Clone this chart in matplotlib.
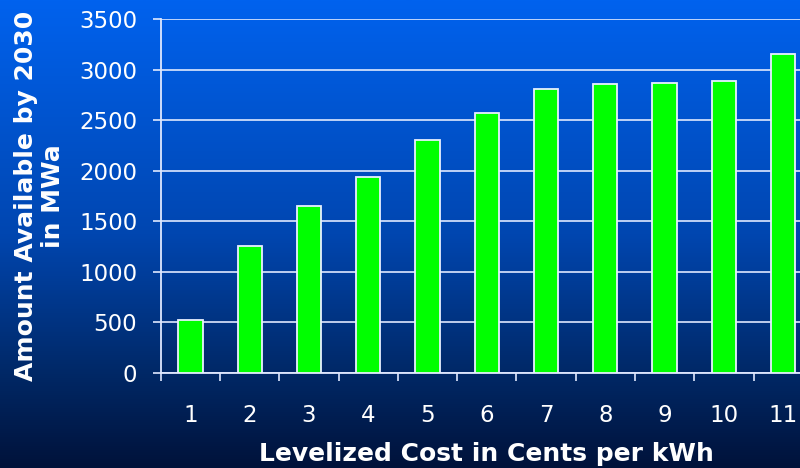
import matplotlib

matplotlib.use("Agg")
import matplotlib.pyplot as plt
import numpy as np
from matplotlib.colors import LinearSegmentedColormap

plt.rcParams.update({"font.family": "DejaVu Sans"})

# ── Data ──────────────────────────────────────────────────────────────────────
cost_cents = [1, 2, 3, 4, 5, 6, 7, 8, 9, 10, 11]
mwa_available = [520, 1260, 1650, 1940, 2300, 2570, 2810, 2860, 2870, 2890, 3160]
y_ticks = [0, 500, 1000, 1500, 2000, 2500, 3000, 3500]

GREEN = "#00ff00"
WHITE = "#ffffff"
LINE = "#dfe8ff"

fig = plt.figure(figsize=(8.0, 4.68), dpi=100)

# background gradient, bright blue on top fading to navy
bg = fig.add_axes([0, 0, 1, 1], zorder=0)
grad_cmap = LinearSegmentedColormap.from_list(
    "bg",
    [(0.0, "#00123a"), (0.2, "#002866"), (0.5, "#0046b0"), (1.0, "#0062ee")],
)
bg.imshow(np.linspace(0, 1, 256).reshape(-1, 1), aspect="auto", cmap=grad_cmap,
          origin="lower", extent=[0, 1, 0, 1])
bg.set_axis_off()

ax = fig.add_axes([0.201, 0.203, 0.815, 0.756], zorder=1)
ax.patch.set_alpha(0)

ax.bar(cost_cents, mwa_available, width=0.41, color=GREEN,
       edgecolor="#e8f0ff", linewidth=1.3, zorder=3)

ax.set_xlim(0.5, 11.5)
ax.set_ylim(0, 3500)
ax.set_yticks(y_ticks)
ax.yaxis.grid(True, color=LINE, linewidth=1.2, zorder=1)

ax.set_xticks(cost_cents)
ax.set_xticks(np.arange(0.5, 12, 1), minor=True)
ax.tick_params(axis="x", which="major", length=0, pad=22, labelsize=16.5,
               labelcolor=WHITE)
ax.tick_params(axis="x", which="minor", length=6, width=1.2, color=LINE,
               direction="out")
ax.tick_params(axis="y", length=6, width=1.2, color=LINE, pad=11,
               labelsize=16.5, labelcolor=WHITE)

for side in ("top", "right"):
    ax.spines[side].set_visible(False)
for side in ("left", "bottom"):
    ax.spines[side].set_color(LINE)
    ax.spines[side].set_linewidth(1.3)

ax.set_xlabel("Levelized Cost in Cents per kWh", fontsize=18,
              fontweight="bold", color=WHITE, labelpad=11)
ax.set_ylabel("Amount Available by 2030\nin MWa", fontsize=18,
              fontweight="bold", color=WHITE, labelpad=10, linespacing=1.15)

fig.savefig("out.png", dpi=100)
